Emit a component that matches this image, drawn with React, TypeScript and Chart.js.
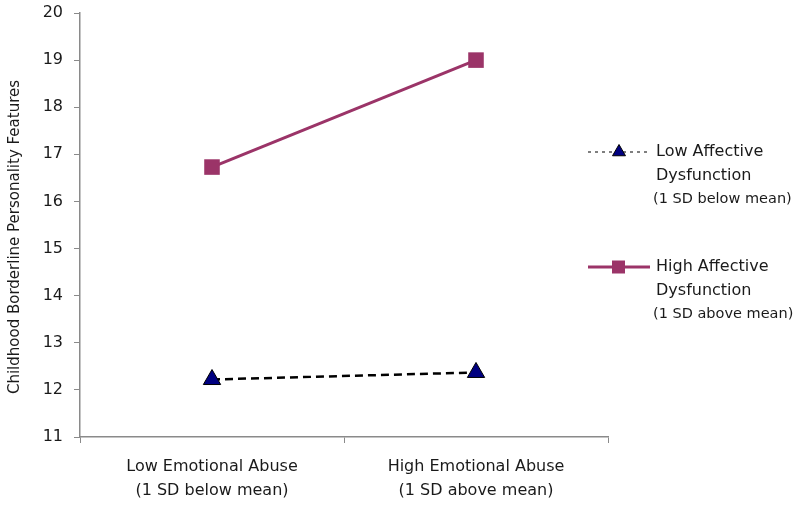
import React, { useEffect, useRef } from "react";
import { Chart, registerables } from "chart.js";

Chart.register(...registerables);

const categories: string[][] = [
  ["Low Emotional Abuse", "(1 SD below mean)"],
  ["High Emotional Abuse", "(1 SD above mean)"],
];
const lowAffective: number[] = [12.22, 12.37];
const highAffective: number[] = [16.73, 19.0];
const legendLow: string[] = ["Low Affective", "Dysfunction", "(1 SD below mean)"];
const legendHigh: string[] = ["High Affective", "Dysfunction", "(1 SD above mean)"];
const yTitle = "Childhood Borderline Personality Features";

const FONT = "'DejaVu Sans', Verdana, sans-serif";
const MAGENTA = "#9B3468";
const NAVY = "#000080";
const TEXT = "#1a1a1a";

const legendPlugin = {
  id: "customLegend",
  afterDraw(chart: any) {
    const ctx = chart.ctx as CanvasRenderingContext2D;
    ctx.save();
    // y-axis title
    ctx.save();
    ctx.translate(15, 237);
    ctx.rotate(-Math.PI / 2);
    ctx.font = `15px ${FONT}`;
    ctx.fillStyle = TEXT;
    ctx.textAlign = "center";
    ctx.textBaseline = "middle";
    ctx.fillText(yTitle, 0, 0);
    ctx.restore();

    ctx.textBaseline = "middle";
    const items = [
      { lines: legendLow, y: 152, ds: 0 },
      { lines: legendHigh, y: 267, ds: 1 },
    ];
    items.forEach((it) => {
      const dataset = chart.data.datasets[it.ds];
      ctx.save();
      ctx.beginPath();
      if (it.ds === 0) {
        ctx.setLineDash([3, 4]);
        ctx.strokeStyle = "#000";
        ctx.lineWidth = 1.2;
      } else {
        ctx.setLineDash([]);
        ctx.strokeStyle = MAGENTA;
        ctx.lineWidth = 3;
      }
      ctx.moveTo(588, it.y);
      ctx.lineTo(650, it.y);
      ctx.stroke();
      ctx.restore();
      ctx.save();
      ctx.fillStyle = dataset.pointBackgroundColor;
      ctx.strokeStyle = dataset.pointBorderColor;
      ctx.lineWidth = 1;
      ctx.beginPath();
      if (it.ds === 0) {
        const r = 7.5;
        ctx.moveTo(619, it.y - r);
        ctx.lineTo(619 + r * 0.866, it.y + r * 0.5);
        ctx.lineTo(619 - r * 0.866, it.y + r * 0.5);
        ctx.closePath();
        ctx.fill();
        ctx.stroke();
      } else {
        ctx.rect(612, it.y - 6.5, 13, 13);
        ctx.fill();
      }
      ctx.restore();
      ctx.fillStyle = TEXT;
      ctx.textAlign = "left";
      ctx.font = `16px ${FONT}`;
      ctx.fillText(it.lines[0], 656, it.y);
      ctx.fillText(it.lines[1], 656, it.y + 24);
      ctx.font = `14.5px ${FONT}`;
      ctx.fillText(it.lines[2], 653, it.y + 47);
    });
    ctx.restore();
  },
};

export default function App() {
  const ref = useRef<HTMLCanvasElement>(null);
  useEffect(() => {
    if (!ref.current) return;
    const chart = new Chart(ref.current, {
      type: "line",
      data: {
        labels: categories,
        datasets: [
          {
            label: "Low Affective Dysfunction",
            data: lowAffective,
            borderColor: "#000",
            borderWidth: 2.5,
            borderDash: [8, 5],
            pointStyle: "triangle",
            pointRadius: 10,
            pointBackgroundColor: NAVY,
            pointBorderColor: "#000",
            pointBorderWidth: 1,
          },
          {
            label: "High Affective Dysfunction",
            data: highAffective,
            borderColor: MAGENTA,
            borderWidth: 3,
            pointStyle: "rect",
            pointRadius: 11,
            pointBackgroundColor: MAGENTA,
            pointBorderColor: MAGENTA,
            pointBorderWidth: 0,
          },
        ],
      },
      options: {
        animation: false,
        responsive: false,
        layout: { padding: { left: 0, right: 192, top: 13, bottom: 0 } },
        plugins: { legend: { display: false }, tooltip: { enabled: false } },
        scales: {
          x: {
            type: "category",
            offset: true,
            grid: {
              offset: true,
              drawOnChartArea: false,
              drawTicks: true,
              tickLength: 6,
              color: "#8a8a8a",
            },
            border: { color: "#8a8a8a", width: 1.5 },
            ticks: {
              color: TEXT,
              font: { family: FONT, size: 16, lineHeight: 1.5 },
              padding: 12,
              maxRotation: 0,
            },
            afterFit(scale: any) {
              scale.height = 70;
              scale.paddingLeft = 0;
              scale.paddingRight = 0;
            },
          },
          y: {
            min: 11,
            max: 20,
            ticks: {
              stepSize: 1,
              color: TEXT,
              font: { family: FONT, size: 16 },
              padding: 11,
            },
            grid: {
              drawOnChartArea: false,
              drawTicks: true,
              tickLength: 6,
              color: "#8a8a8a",
            },
            border: { color: "#8a8a8a", width: 1.5 },
            afterFit(scale: any) {
              scale.width = 80;
              scale.paddingTop = 0;
              scale.paddingBottom = 0;
            },
          },
        },
      },
      plugins: [legendPlugin],
    });
    return () => chart.destroy();
  }, []);
  return (
    <div style={{ position: "fixed", left: 0, top: 0, width: 800, height: 507, background: "#fff" }}>
      <canvas ref={ref} width={800} height={507} style={{ width: 800, height: 507 }} />
    </div>
  );
}
